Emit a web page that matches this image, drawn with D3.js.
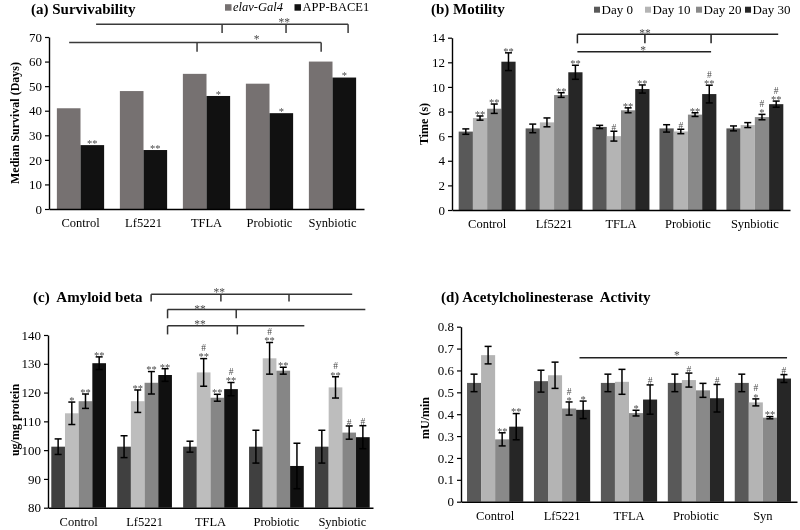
<!DOCTYPE html>
<html><head><meta charset="utf-8">
<script src="https://cdn.jsdelivr.net/npm/d3@7"></script>
<style>
body{margin:0;background:#fff;}
svg{display:block;font-family:"Liberation Serif","Times New Roman",serif;will-change:transform;}
</style></head><body>
<svg id="c" width="800" height="530"></svg>
<script>
// ---------- DATA ----------
const categories = ["Control", "Lf5221", "TFLA", "Probiotic", "Synbiotic"];
const categoriesAChE = ["Control", "Lf5221", "TFLA", "Probiotic", "Syn"];
const daySeries = ["Day 0", "Day 10", "Day 20", "Day 30"];

// (a) Survivability
const survivalSeries = ["elav-Gal4", "APP-BACE1"];
const survivalElav = [41, 48, 55, 51, 60];
const survivalApp = [26, 24, 46, 39, 53.5];
const survivalAppSig = ["**", "**", "*", "*", "*"];
const survivalTicks = [0, 10, 20, 30, 40, 50, 60, 70];

// (b) Motility
const motilityDay0 = [6.37, 6.63, 6.75, 6.63, 6.63];
const motilityDay0Err = [0.22, 0.35, 0.13, 0.3, 0.2];
const motilityDay10 = [7.47, 7.12, 6.0, 6.38, 6.9];
const motilityDay10Err = [0.17, 0.36, 0.4, 0.18, 0.2];
const motilityDay20 = [8.23, 9.34, 8.1, 7.75, 7.55];
const motilityDay20Err = [0.38, 0.19, 0.2, 0.15, 0.22];
const motilityDay30 = [12.05, 11.19, 9.83, 9.42, 8.6];
const motilityDay30Err = [0.72, 0.57, 0.33, 0.72, 0.25];
const motilitySig10 = ["**", "", "#", "#", ""];
const motilitySig20 = ["**", "**", "**", "**", "#*"];
const motilitySig30 = ["**", "**", "**", "#**", "#**"];
const motilityTicks = [0, 2, 4, 6, 8, 10, 12, 14];

// (c) Amyloid beta
const amyloidDay0 = [101.2, 101.2, 101.2, 101.2, 101.2];
const amyloidDay0Err = [2.7, 3.8, 1.9, 5.7, 5.7];
const amyloidDay10 = [112.8, 117, 127, 131.9, 121.8];
const amyloidDay10Err = [3.9, 3.9, 4.8, 5.5, 3.7];
const amyloidDay20 = [117, 123.4, 118.2, 127.6, 106.1];
const amyloidDay20Err = [2.5, 3.9, 1.2, 1.2, 2.3];
const amyloidDay30 = [130.2, 126.1, 121.2, 94.5, 104.5];
const amyloidDay30Err = [2.2, 2.2, 2.3, 7.9, 4];
const amyloidSig10 = ["*", "**", "#**", "#**", "#**"];
const amyloidSig20 = ["**", "**", "**", "**", "#"];
const amyloidSig30 = ["**", "**", "#**", "", "#"];
const amyloidTicks = [80, 90, 100, 110, 120, 130, 140];

// (d) Acetylcholinesterase activity
const acheDay0 = [0.543, 0.551, 0.543, 0.543, 0.543];
const acheDay0Err = [0.04, 0.05, 0.04, 0.04, 0.04];
const acheDay10 = [0.67, 0.578, 0.548, 0.556, 0.454];
const acheDay10Err = [0.04, 0.06, 0.057, 0.032, 0.016];
const acheDay20 = [0.285, 0.426, 0.405, 0.509, 0.384];
const acheDay20Err = [0.03, 0.03, 0.013, 0.032, 0.005];
const acheDay30 = [0.343, 0.42, 0.467, 0.473, 0.563];
const acheDay30Err = [0.06, 0.04, 0.067, 0.063, 0.018];
const acheSig10 = ["", "", "", "#", "#*"];
const acheSig20 = ["**", "#*", "*", "", "**"];
const acheSig30 = ["**", "*", "#", "#", "#"];
const acheTicks = [0, 0.1, 0.2, 0.3, 0.4, 0.5, 0.6, 0.7, 0.8];

// ---------- DRAWING ----------
const FONT = "Liberation Serif, Times New Roman, serif";
const svg = d3.select("#c");
const SIGFS = 10.5;
const SIGFILL = "#4a4a4a";

function sigMark(g, cx, top, s) {
  if (!s) return;
  const hash = s.includes("#");
  const stars = s.replace("#", "");
  const t = g.append("text").attr("text-anchor", "middle").attr("font-size", SIGFS).attr("fill", SIGFILL);
  if (stars) {
    if (hash) t.append("tspan").attr("x", cx).attr("y", top - 11 + 0.34 * SIGFS).attr("font-size", SIGFS - 1).text("#");
    t.append("tspan").attr("x", cx).attr("y", top - 3.5 + 0.51 * SIGFS).text(stars);
  } else {
    t.append("tspan").attr("x", cx).attr("y", top - 4 + 0.34 * SIGFS).attr("font-size", SIGFS - 1).text("#");
  }
}

function drawPanel(cfg) {
  const g = svg.append("g").attr("font-family", FONT);
  const x = d3.scaleBand().domain(cfg.cats).range(cfg.xRange)
    .paddingInner(cfg.padIn).paddingOuter(cfg.padOut);
  const xs = d3.scaleBand().domain(cfg.series.map(s => s.name)).range([0, x.bandwidth()]);
  const y = d3.scaleLinear().domain(cfg.yDomain).range(cfg.yRange);
  const base = y(cfg.yDomain[0]);

  cfg.series.forEach(s => {
    const rows = cfg.cats.map((c, i) => ({ c, v: s.values[i] }));
    g.append("g").selectAll("rect").data(rows).join("rect")
      .attr("x", d => x(d.c) + xs(s.name)).attr("width", xs.bandwidth())
      .attr("y", d => y(d.v)).attr("height", d => base - y(d.v)).attr("fill", s.color);
  });
  const eg = g.append("g").attr("stroke", "#000").attr("stroke-width", 1.5);
  const sg = g.append("g");
  cfg.series.forEach(s => {
    cfg.cats.forEach((c, i) => {
      const cx = x(c) + xs(s.name) + xs.bandwidth() / 2;
      const v = s.values[i];
      const e = s.errs ? s.errs[i] : 0;
      if (e > 0) {
        const y1 = y(v + e), y0 = Math.min(y(v - e), base);
        eg.append("line").attr("x1", cx).attr("x2", cx).attr("y1", y1).attr("y2", y0);
        eg.append("line").attr("x1", cx - 3.5).attr("x2", cx + 3.5).attr("y1", y1).attr("y2", y1);
        eg.append("line").attr("x1", cx - 3.5).attr("x2", cx + 3.5).attr("y1", y0).attr("y2", y0);
      }
      if (s.sig) sigMark(sg, cx, y(v + e), s.sig[i]);
    });
  });

  // y axis
  const ya = d3.axisLeft(y).tickValues(cfg.yTicks).tickFormat(cfg.fmt)
    .tickSize(4).tickSizeOuter(0).tickPadding(3);
  g.append("g").attr("transform", `translate(${cfg.xRange[0]},0)`).call(ya)
    .attr("font-family", FONT).attr("font-size", 13)
    .call(a => {
      a.select(".domain").attr("stroke", "#000").attr("stroke-width", 1.4);
      a.selectAll(".tick line").attr("stroke", "#000").attr("stroke-width", 1.2);
      a.selectAll("text").attr("fill", "#000");
    });
  // x axis
  const xa = d3.axisBottom(x).tickSize(0).tickSizeOuter(0).tickPadding(9.5);
  g.append("g").attr("transform", `translate(0,${base})`).call(xa)
    .attr("font-family", FONT).attr("font-size", 12.5)
    .call(a => {
      a.select(".domain").attr("stroke", "#000").attr("stroke-width", 1.4);
      a.selectAll("text").attr("fill", "#000");
    });

  // y label
  g.append("text").attr("transform", `translate(${cfg.yLabelPos[0]},${cfg.yLabelPos[1]}) rotate(-90)`)
    .attr("text-anchor", "middle").attr("dominant-baseline", "central")
    .attr("font-size", 12).attr("font-weight", "bold").text(cfg.yLabel);
  // title
  g.append("text").attr("x", cfg.titlePos[0]).attr("y", cfg.titlePos[1])
    .attr("font-size", 15).attr("font-weight", "bold")
    .attr("xml:space", "preserve").style("white-space", "pre").text(cfg.title);

  // brackets
  const bx = p => x(cfg.cats[p[0]]) + p[1] * x.bandwidth();
  const bg = g.append("g").attr("stroke", cfg.bracketColor || "#333").attr("stroke-width", 1.5);
  (cfg.brackets || []).forEach(b => {
    bg.append("line").attr("x1", bx(b.x0)).attr("x2", bx(b.x1)).attr("y1", y(b.y)).attr("y2", y(b.y));
    b.ticks.forEach(t => {
      bg.append("line").attr("x1", bx(t)).attr("x2", bx(t)).attr("y1", y(b.y)).attr("y2", y(b.tickTo));
    });
    g.append("text").attr("x", bx(b.lx)).attr("y", y(b.ly) + 0.51 * 11.5)
      .attr("text-anchor", "middle").attr("font-size", 11.5).attr("fill", SIGFILL).text(b.label);
  });

  // legend
  if (cfg.legend) {
    cfg.legend.items.forEach((it, i) => {
      const lx = cfg.legend.xs[i];
      g.append("rect").attr("x", lx).attr("y", cfg.legend.y - 3.3)
        .attr("width", cfg.legend.size).attr("height", cfg.legend.size).attr("fill", it.color);
      g.append("text").attr("x", lx + cfg.legend.size + 1.5).attr("y", cfg.legend.y + 3.7)
        .attr("font-size", cfg.legend.fs).attr("font-style", it.italic ? "italic" : "normal")
        .attr("fill", "#000").text(it.name);
    });
  }
}

const dayColorsB = ["#595959", "#b4b4b4", "#898989", "#262626"];
const dayColorsC = ["#404040", "#bdbdbd", "#868686", "#101010"];

// (a)
drawPanel({
  cats: categories, xRange: [49, 364], yRange: [209, 37], yDomain: [0, 70],
  yTicks: survivalTicks, fmt: d3.format("d"), padIn: 0.25, padOut: 0.125,
  series: [
    { name: survivalSeries[0], values: survivalElav, color: "#767171" },
    { name: survivalSeries[1], values: survivalApp, color: "#111111", sig: survivalAppSig }
  ],
  yLabel: "Median Survival (Days)", yLabelPos: [15, 123],
  title: "(a) Survivability", titlePos: [31, 14],
  bracketColor: "#3a3a3a",
  brackets: [
    { y: 75.2, x0: [0, 0.83], x1: [4, 0.83], ticks: [[2, 0.83], [3, 0.85], [4, 0.83]], tickTo: 71.6, label: "**", lx: [3, 0.81], ly: 76.9 },
    { y: 67.8, x0: [0, 0.26], x1: [4, 0.26], ticks: [[2, 0.30], [4, 0.26]], tickTo: 64.0, label: "*", lx: [3, 0.23], ly: 70.0 }
  ],
  legend: { xs: [225, 294.5], y: 7.5, size: 6.5, fs: 12.5,
    items: [{ name: survivalSeries[0], color: "#767171", italic: true }, { name: survivalSeries[1], color: "#111111" }] }
});

// (b)
drawPanel({
  cats: categories, xRange: [452, 790], yRange: [210, 37.7], yDomain: [0, 14],
  yTicks: motilityTicks, fmt: d3.format("d"), padIn: 0.15, padOut: 0.1,
  series: [
    { name: daySeries[0], values: motilityDay0, errs: motilityDay0Err, color: dayColorsB[0] },
    { name: daySeries[1], values: motilityDay10, errs: motilityDay10Err, color: dayColorsB[1], sig: motilitySig10 },
    { name: daySeries[2], values: motilityDay20, errs: motilityDay20Err, color: dayColorsB[2], sig: motilitySig20 },
    { name: daySeries[3], values: motilityDay30, errs: motilityDay30Err, color: dayColorsB[3], sig: motilitySig30 }
  ],
  yLabel: "Time (s)", yLabelPos: [424, 124],
  title: "(b) Motility", titlePos: [431, 14],
  bracketColor: "#222",
  brackets: [
    { y: 14.28, x0: [1, 0.91], x1: [4, 0.91], ticks: [[1, 0.91], [2, 0.92], [3, 0.907]], tickTo: 13.54, label: "**", lx: [2, 0.92], ly: 14.57 },
    { y: 12.86, x0: [1, 0.91], x1: [3, 0.907], ticks: [], tickTo: 12.86, label: "*", lx: [2, 0.89], ly: 13.16 }
  ],
  legend: { xs: [594, 645, 696, 745], y: 10, size: 6, fs: 13,
    items: daySeries.map((d, i) => ({ name: d, color: dayColorsB[i] })) }
});

// (c)
drawPanel({
  cats: categories, xRange: [48, 373], yRange: [507.7, 335], yDomain: [80, 140],
  yTicks: amyloidTicks, fmt: d3.format("d"), padIn: 0.17, padOut: 0.05,
  series: [
    { name: daySeries[0], values: amyloidDay0, errs: amyloidDay0Err, color: dayColorsC[0] },
    { name: daySeries[1], values: amyloidDay10, errs: amyloidDay10Err, color: dayColorsC[1], sig: amyloidSig10 },
    { name: daySeries[2], values: amyloidDay20, errs: amyloidDay20Err, color: dayColorsC[2], sig: amyloidSig20 },
    { name: daySeries[3], values: amyloidDay30, errs: amyloidDay30Err, color: dayColorsC[3], sig: amyloidSig30 }
  ],
  yLabel: "ug/mg protein", yLabelPos: [15, 420],
  title: "(c)  Amyloid beta", titlePos: [33, 302],
  bracketColor: "#333",
  brackets: [
    { y: 154.2, x0: [1, 0.62], x1: [4, 0.68], ticks: [[1, 0.62], [2, 0.69], [3, 0.73]], tickTo: 151.6, label: "**", lx: [2, 0.66], ly: 155.6 },
    { y: 148.9, x0: [1, 0.92], x1: [4, 0.92], ticks: [[1, 0.92], [2, 0.97]], tickTo: 145.8, label: "**", lx: [2, 0.31], ly: 149.8 },
    { y: 143.2, x0: [1, 0.92], x1: [3, 1.01], ticks: [[1, 0.92], [2, 0.99]], tickTo: 140.2, label: "**", lx: [2, 0.31], ly: 144.6 }
  ]
});

// (d)
drawPanel({
  cats: categoriesAChE, xRange: [461, 797], yRange: [501.7, 326.7], yDomain: [0, 0.8],
  yTicks: acheTicks, fmt: d => d === 0 ? "0" : d3.format(".1f")(d), padIn: 0.16, padOut: 0.09,
  series: [
    { name: daySeries[0], values: acheDay0, errs: acheDay0Err, color: dayColorsB[0] },
    { name: daySeries[1], values: acheDay10, errs: acheDay10Err, color: dayColorsB[1], sig: acheSig10 },
    { name: daySeries[2], values: acheDay20, errs: acheDay20Err, color: dayColorsB[2], sig: acheSig20 },
    { name: daySeries[3], values: acheDay30, errs: acheDay30Err, color: dayColorsB[3], sig: acheSig30 }
  ],
  yLabel: "mU/min", yLabelPos: [425, 418],
  title: "(d) Acetylcholinesterase  Activity", titlePos: [441, 302],
  bracketColor: "#222",
  brackets: [
    { y: 0.658, x0: [1, 0.81], x1: [4, 0.93], ticks: [], tickTo: 0.658, label: "*", lx: [3, 0.16], ly: 0.679 }
  ]
});
</script>
</body></html>
